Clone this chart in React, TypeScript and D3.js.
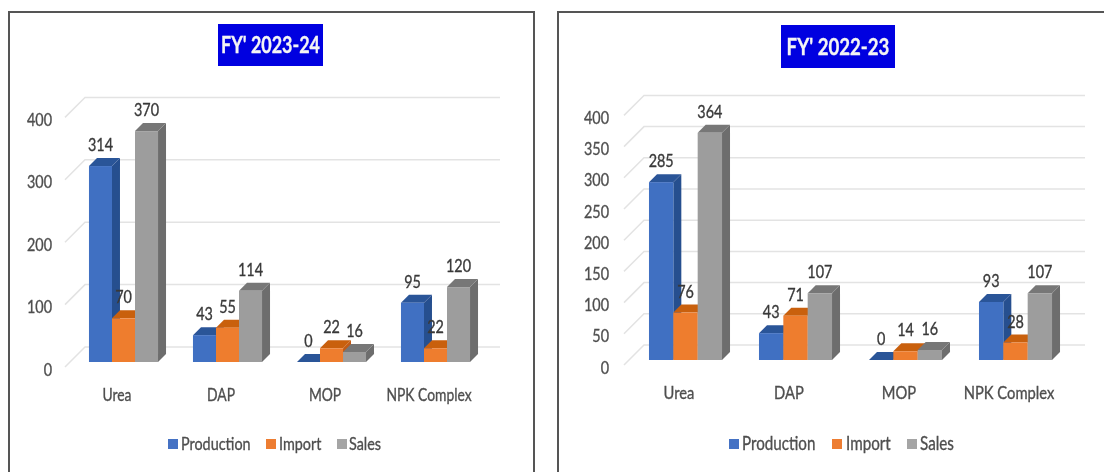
import React from "react";
import * as d3 from "d3";

const categories = ["Urea", "DAP", "MOP", "NPK Complex"];
const seriesNames = ["Production", "Import", "Sales"];

const production2324 = [314, 43, 0, 95];
const import2324 = [70, 55, 22, 22];
const sales2324 = [370, 114, 16, 120];
const ticks2324 = [0, 100, 200, 300, 400];

const production2223 = [285, 43, 0, 93];
const import2223 = [76, 71, 14, 28];
const sales2223 = [364, 107, 16, 107];
const ticks2223 = [0, 50, 100, 150, 200, 250, 300, 350, 400];

const faces = [
  { front: "#3f6fc2", side: "#28508f", top: "#2b5498", swatch: "#4472c4" },
  { front: "#ee7d2f", side: "#c25a12", top: "#c9600f", swatch: "#ed7d31" },
  { front: "#9d9d9d", side: "#6d6d6d", top: "#777777", swatch: "#a5a5a5" },
];

const FONT = "Lato,'Liberation Sans',sans-serif";
const TEXT = "#4f4f4f";

function T({ x, y, size, anchor = "middle", fill = TEXT, weight = 400, sx = 0.8, children }: any) {
  return (
    <text transform={`translate(${x},${y}) scale(${sx},1)`} textAnchor={anchor} fontFamily={FONT}
      fontSize={size} fontWeight={weight} fill={fill} stroke={fill} strokeWidth={0.35}>{children}</text>
  );
}

type Layout = {
  title: string; frame: [number, number]; titleBox: [number, number, number, number]; titleSx: number;
  range: [number, number]; base: number; tickX: number; wallX0: number; wallX1: number;
  legend: { swatch: number; text: number }[]; legendSize: number; catSx: number;
};

function Panel({ layout, values, ticks }: { layout: Layout; values: number[][]; ticks: number[] }) {
  const { title, frame, titleBox, titleSx, range, base, tickX, wallX0, wallX1, legend, legendSize, catSx } = layout;
  const y = d3.scaleLinear().domain([0, 400]).range([base, base - 249.6]);
  const x = d3.scaleBand<string>().domain(categories).range(range).paddingInner(0.336).paddingOuter(0.168);
  const inner = d3.scaleBand<string>().domain(seriesNames).range([0, x.bandwidth()]);
  const w = inner.bandwidth();
  const d = 8;
  const wallDx = 20, wallDy = 20;
  const floor = base + 5;
  return (
    <g>
      <rect x={frame[0]} y={12} width={frame[1] - frame[0]} height={480} fill="#fff" stroke="#555" strokeWidth={2} />
      <rect x={titleBox[0]} y={titleBox[1]} width={titleBox[2]} height={titleBox[3]} fill="#0000e0" />
      <T x={titleBox[0] + titleBox[2] / 2} y={titleBox[1] + titleBox[3] / 2 + 8} size={23} weight={700} fill="#f4f4f4" sx={titleSx}>{title}</T>
      {ticks.map((t) => {
        const fy = y(t) + 5;
        return (
          <g key={t}>
            <polyline points={`${wallX0},${fy} ${wallX0 + wallDx},${fy - wallDy} ${wallX1},${fy - wallDy}`}
              fill="none" stroke="#e3e3e3" strokeWidth={1.5} />
            <T x={tickX} y={fy + 8.5} size={18} anchor="end">{t}</T>
          </g>
        );
      })}
      {categories.map((c, ci) => (
        <g key={c}>
          {seriesNames.map((s, si) => {
            const x0 = (x(c) as number) + (inner(s) as number);
            const x1 = x0 + w;
            const top = y(values[si][ci]);
            const f = faces[si];
            return (
              <g key={s}>
                <polygon points={`${x1},${top} ${x1 + d},${top - d} ${x1 + d},${base - d} ${x1},${base}`} fill={f.side} />
                <polygon points={`${x0},${top} ${x0 + d},${top - d} ${x1 + d},${top - d} ${x1},${top}`} fill={f.top} />
                <rect x={x0} y={top} width={w} height={base - top} fill={f.front} />
              </g>
            );
          })}
          <T x={(x(c) as number) + x.bandwidth() / 2 - 6.5} y={floor + 34} size={18} sx={catSx}>{c}</T>
        </g>
      ))}
      {categories.map((c) => seriesNames.map((s, si) => {
        const ci = categories.indexOf(c);
        return (
          <T key={c + s} x={(x(c) as number) + (inner(s) as number) + w / 2} y={y(values[si][ci]) - 15}
            size={18} fill="#3a3a3a">{values[si][ci]}</T>
        );
      }))}
      {seriesNames.map((s, si) => (
        <g key={s}>
          <rect x={legend[si].swatch} y={439} width={10} height={10} fill={faces[si].swatch} />
          <T x={legend[si].text} y={450} size={legendSize} anchor="start">{s}</T>
        </g>
      ))}
    </g>
  );
}

const left: Layout = {
  title: "FY' 2023-24", frame: [9, 534], titleBox: [218, 24, 105, 42], titleSx: 0.78, catSx: 0.77,
  range: [71.5, 487.5], base: 362, tickX: 52, wallX0: 65, wallX1: 500, legendSize: 18,
  legend: [{ swatch: 168, text: 181 }, { swatch: 266, text: 279 }, { swatch: 337, text: 349 }],
};
const right: Layout = {
  title: "FY' 2022-23", frame: [558, 1120], titleBox: [781, 25, 114, 43], titleSx: 0.81, catSx: 0.82,
  range: [630.5, 1070.5], base: 360, tickX: 609, wallX0: 624, wallX1: 1085, legendSize: 19,
  legend: [{ swatch: 729, text: 742 }, { swatch: 832, text: 846 }, { swatch: 907, text: 920 }],
};

export default function App() {
  return (
    <svg width={1104} height={472} viewBox="0 0 1104 472"
      style={{ position: "absolute", left: 0, top: 0, background: "#fff", display: "block" }}>
      <defs>
        <filter id="soft" x="-2%" y="-2%" width="104%" height="104%">
          <feGaussianBlur stdDeviation="0.55" />
        </filter>
      </defs>
      <g filter="url(#soft)">
        <Panel layout={left} values={[production2324, import2324, sales2324]} ticks={ticks2324} />
        <Panel layout={right} values={[production2223, import2223, sales2223]} ticks={ticks2223} />
      </g>
    </svg>
  );
}
